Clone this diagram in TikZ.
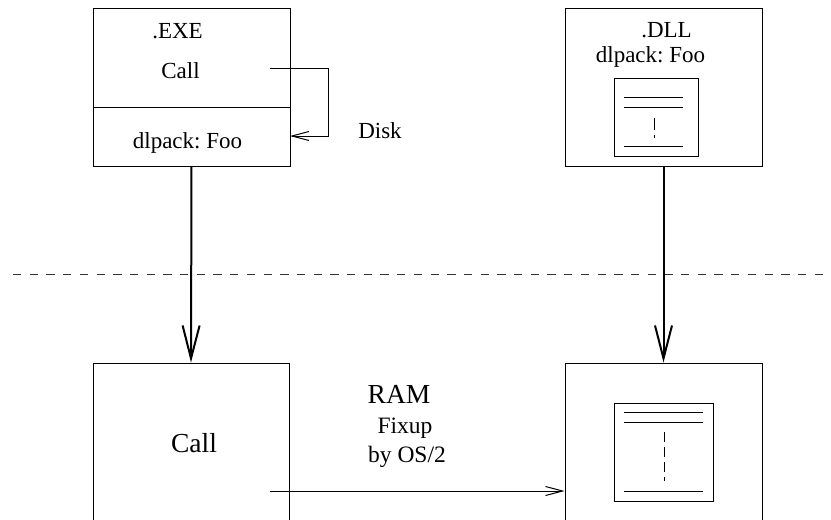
\documentclass[tikz,border=0pt]{standalone}
\usepackage{fontspec}
\setmainfont{Liberation Serif}
\usetikzlibrary{arrows.meta}
\frenchspacing
\begin{document}
\begin{tikzpicture}[x=1pt,y=-1pt,
  box/.style={draw,line width=1pt,inner sep=0pt},
  lbl/.style={inner sep=0pt,anchor=base,font=\fontsize{23}{26}\selectfont},
  biglbl/.style={inner sep=0pt,anchor=base,font=\fontsize{27.5}{31}\selectfont},
  bigarrow/.style={line width=2pt,-{Straight Barb[length=33pt,width=17pt]}},
  thinarrow/.style={line width=1pt,-{Straight Barb[length=17pt,width=9pt]}},
  docline/.style={line width=1pt}]
\useasboundingbox (0,0) rectangle (831,520);
\clip (0,0) rectangle (831,520);

% disk images
\node[box,minimum width=197pt,minimum height=158pt] (exe) at (191.5,87) {};
\node[box,minimum width=197pt,minimum height=158pt] (dll) at (663.5,87) {};
\coordinate (divl) at (93,107);
\coordinate (divr) at (290,107);
\draw[line width=1pt] (divl) -- (divr);

\node[lbl] (exename) at (177.5,38) {.EXE};
\node[lbl] (execall) at (180.5,78) {Call};
\node[lbl] (exeimp) at (187.5,148) {dlpack: Foo};
\node[lbl] (disk) at (380,138) {Disk};
\node[lbl] (dllname) at (666.5,37) {.DLL};
\node[lbl] (dllexp) at (650.5,62) {dlpack: Foo};

% call resolved through the import entry
\coordinate (callout) at (270,68);
\coordinate (loopend) at (290,136);
\draw[thinarrow] (callout) -- ++(58,0) |- (loopend);

% code block inside the DLL
\draw[line width=1pt] (614,78) rectangle (698,156);
\draw[docline] (624,97) -- (683,97);
\draw[docline] (624,107) -- (683,107);
\draw[docline,dash pattern=on 12pt off 5pt] (654,118) -- (654,138);
\draw[docline] (624,146) -- (683,146);

% boundary between disk and memory
\draw[line width=1pt,black!80,dash pattern=on 8.3pt off 8.4pt] (13,274) -- (831,274);

% loaded images in memory
\node[box,minimum width=196pt,minimum height=200pt] (ramcall) at (191,463) {};
\node[box,minimum width=197pt,minimum height=200pt] (ramdll) at (663.5,463) {};

\node[biglbl] (callram) at (194,452) {Call};
\node[biglbl] (ram) at (399,403) {RAM};
\node[lbl,font=\fontsize{23.5}{26}\selectfont] (fixup) at (405,433) {Fixup};
\node[lbl,font=\fontsize{23.5}{26}\selectfont] (byos) at (407,462) {by OS/2};

\draw[line width=1pt] (614,403) rectangle (713,501);
\draw[docline] (624,412) -- (703,412);
\draw[docline] (624,422) -- (703,422);
\draw[docline,dash pattern=on 10pt off 5pt] (664,432) -- (664,481);
\draw[docline] (624,491) -- (703,491);

% loading and fixup
\draw[bigarrow] (exe.south) -- (ramcall.north);
\draw[bigarrow] (dll.south) -- (ramdll.north);
\coordinate (fixstart) at (270,491);
\draw[thinarrow] (fixstart) -- (ramdll.west |- fixstart);
\end{tikzpicture}
\end{document}
